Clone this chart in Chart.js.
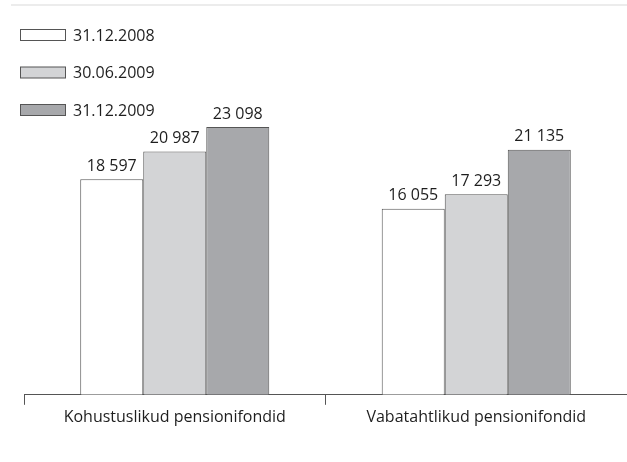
<!DOCTYPE html>
<html>
<head>
<meta charset="utf-8">
<script src="https://cdn.jsdelivr.net/npm/chart.js@4.4.1/dist/chart.umd.min.js"></script>
<style>
  html, body { margin: 0; padding: 0; background: #fff; }
  #wrap { width: 627px; height: 462px; position: relative; }
</style>
</head>
<body>
<div id="wrap"><canvas id="bars"></canvas></div>
<script>
// data
const categories = ['Kohustuslikud pensionifondid', 'Vabatahtlikud pensionifondid'];
const seriesLabels = ['31.12.2008', '30.06.2009', '31.12.2009'];
const values2008Dec = [18597, 16055];
const values2009Jun = [20987, 17293];
const values2009Dec = [23098, 21135];
const seriesColors = ['#ffffff', '#d3d4d6', '#a7a8ab'];

const FONT = "'Open Sans', sans-serif";
const TEXT = '#1e1e1e';

function fmt(v) {
    return String(v).replace(/\B(?=(\d{3})+(?!\d))/g, ' ');
}

// faint rule across the top
const topRule = {
    id: 'topRule',
    beforeDraw(chart) {
        const ctx = chart.ctx;
        ctx.save();
        ctx.strokeStyle = '#ececec';
        ctx.lineWidth = 2;
        ctx.beginPath();
        ctx.moveTo(11, 5);
        ctx.lineTo(chart.width, 5);
        ctx.stroke();
        ctx.restore();
    }
};

// value labels on top of bars
const valueLabels = {
    id: 'valueLabels',
    afterDatasetsDraw(chart) {
        const ctx = chart.ctx;
        ctx.save();
        ctx.font = '16px ' + FONT;
        ctx.fillStyle = TEXT;
        ctx.textAlign = 'center';
        ctx.textBaseline = 'bottom';
        chart.data.datasets.forEach((ds, i) => {
            chart.getDatasetMeta(i).data.forEach((bar, j) => {
                ctx.fillText(fmt(ds.data[j]), bar.x, bar.y - 5);
            });
        });
        ctx.restore();
    }
};

// vertical legend overlaid top-left
const sideLegend = {
    id: 'sideLegend',
    afterDraw(chart) {
        const ctx = chart.ctx;
        ctx.save();
        ctx.font = '16px ' + FONT;
        ctx.textBaseline = 'middle';
        chart.data.datasets.forEach((ds, i) => {
            const cy = 35 + i * 37.5;
            ctx.fillStyle = ds.backgroundColor;
            ctx.fillRect(20.5, cy - 5.5, 45, 11);
            ctx.strokeStyle = '#555';
            ctx.lineWidth = 1;
            ctx.strokeRect(20.5, cy - 5.5, 45, 11);
            ctx.fillStyle = TEXT;
            ctx.fillText(ds.label, 73, cy + 1);
        });
        ctx.restore();
    }
};

const barData = {
    labels: categories,
    datasets: [values2008Dec, values2009Jun, values2009Dec].map((vals, i) => ({
        label: seriesLabels[i],
        data: vals,
        backgroundColor: seriesColors[i],
        borderColor: '#555',
        borderWidth: 1,
        borderSkipped: 'bottom',
        barPercentage: 1,
        categoryPercentage: 0.627
    }))
};

const config = {
    type: 'bar',
    data: barData,
    options: {
        responsive: true,
        maintainAspectRatio: false,
        animation: false,
        layout: { padding: { left: 24, right: 0, top: 47, bottom: 32 } },
        plugins: {
            legend: { display: false },
            tooltip: { enabled: false }
        },
        scales: {
            x: {
                offset: true,
                grid: {
                    offset: true,
                    drawOnChartArea: false,
                    drawTicks: true,
                    tickLength: 10,
                    color: '#555'
                },
                border: { display: true, color: '#555', width: 1 },
                ticks: {
                    color: TEXT,
                    font: { family: FONT, size: 16 },
                    padding: 3,
                    maxRotation: 0
                }
            },
            y: {
                display: false,
                min: 0,
                max: 30000
            }
        }
    },
    plugins: [topRule, valueLabels, sideLegend]
};

new Chart(document.getElementById('bars'), config);
</script>
</body>
</html>
